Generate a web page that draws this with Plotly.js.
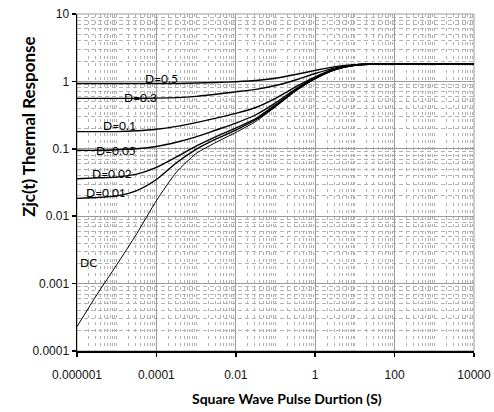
<!DOCTYPE html>
<html>
<head>
<meta charset="utf-8">
<script src="https://cdn.plot.ly/plotly-3.0.1.min.js"></script>
<style>
  html, body { margin: 0; padding: 0; background: #fff; }
  #chart { width: 494px; height: 412px; }
</style>
</head>
<body>
<div id="chart"></div>
<script>
// Square wave pulse duration (s), shared by every curve
const pulseWidth = [0.000001, 0.0000032, 0.00001, 0.000032, 0.0001, 0.00032, 0.001, 0.0032,
                    0.01, 0.032, 0.1, 0.32, 1, 3.2, 10, 32, 100, 10000];

// Normalised thermal response Zjc(t) for each duty cycle
const zDC   = [0.00023, 0.00069, 0.0019, 0.0055, 0.017, 0.045, 0.085, 0.125,
               0.175, 0.255, 0.42, 0.72, 1.1, 1.5, 1.74, 1.81, 1.81, 1.81];
const zD001 = [0.0184, 0.0189, 0.020, 0.024, 0.035, 0.062, 0.098, 0.14,
               0.19, 0.27, 0.43, 0.73, 1.1, 1.5, 1.74, 1.81, 1.81, 1.81];
const zD002 = [0.036, 0.037, 0.038, 0.042, 0.053, 0.076, 0.11, 0.152,
               0.203, 0.28, 0.45, 0.74, 1.11, 1.5, 1.74, 1.81, 1.81, 1.81];
const zD005 = [0.095, 0.095, 0.097, 0.10, 0.108, 0.125, 0.15, 0.19,
               0.24, 0.32, 0.48, 0.77, 1.14, 1.52, 1.745, 1.81, 1.81, 1.81];
const zD01  = [0.18, 0.18, 0.18, 0.185, 0.195, 0.215, 0.245, 0.285,
               0.335, 0.41, 0.56, 0.83, 1.17, 1.53, 1.75, 1.81, 1.81, 1.81];
const zD03  = [0.56, 0.56, 0.56, 0.56, 0.565, 0.575, 0.60, 0.645,
               0.70, 0.76, 0.87, 1.05, 1.31, 1.59, 1.76, 1.81, 1.81, 1.81];
const zD05  = [0.93, 0.93, 0.93, 0.93, 0.93, 0.93, 0.945, 0.965,
               0.99, 1.03, 1.115, 1.265, 1.455, 1.655, 1.775, 1.81, 1.81, 1.81];

const curveNames = ['DC', 'D=0.01', 'D=0.02', 'D=0.05', 'D=0.1', 'D=0.3', 'D=0.5'];
const curveValues = [zDC, zD001, zD002, zD005, zD01, zD03, zD05];

// Axis tick labels
const xTickVals = [0.000001, 0.0001, 0.01, 1, 100, 10000];
const xTickText = ['0.000001', '0.0001', '0.01', '1', '100', '10000'];
const yTickVals = [0.0001, 0.001, 0.01, 0.1, 1, 10];
const yTickText = ['0.0001', '0.001', '0.01', '0.1', '1', '10'];

// Minor grid: every 1..9 multiple of each decade that is not a labelled tick
function minorVals(fromExp, toExp, majors) {
  const out = [];
  for (let e = fromExp; e < toExp; e++) {
    for (let k = 1; k <= 9; k++) {
      const v = k * Math.pow(10, e);
      if (!majors.some(m => Math.abs(m - v) / m < 1e-9)) out.push(v);
    }
  }
  return out;
}

const traces = curveValues.map((vals, i) => ({
  type: 'scatter',
  mode: 'lines',
  name: curveNames[i],
  x: pulseWidth,
  y: vals,
  line: { color: '#000', width: curveNames[i] === 'DC' ? 1 : 1.4, shape: 'spline', smoothing: 0.6 },
  hoverinfo: 'skip',
  showlegend: false
}));

// Curve labels sit on the flat part of each curve (log10 coordinates)
const labelPos = [
  [-5.72, -2.694], [-5.27, -1.641], [-5.12, -1.359], [-5.02, -1.018],
  [-4.92, -0.647], [-4.39, -0.246], [-3.86, 0.050]
];
const annotations = curveNames.map((name, i) => ({
  x: labelPos[i][0], y: labelPos[i][1], xref: 'x', yref: 'y',
  text: name, showarrow: false,
  font: { family: 'Lato, sans-serif', size: 12, color: '#000' },
  xanchor: 'center', yanchor: 'middle'
}));

annotations.push({
  xref: 'paper', yref: 'paper', x: 0.530, y: -0.142,
  text: 'Square Wave Pulse Durtion (S)', showarrow: false,
  font: { family: 'Lato, sans-serif', size: 14, color: '#000', weight: 'bold' },
  xanchor: 'center', yanchor: 'middle'
});
annotations.push({
  xref: 'paper', yref: 'paper', x: -0.121, y: 0.665,
  text: 'Zjc(t) Thermal Response', showarrow: false, textangle: -90,
  font: { family: 'Lato, sans-serif', size: 17, color: '#000', weight: 'bold' },
  xanchor: 'center', yanchor: 'middle'
});

const layout = {
  width: 494, height: 412,
  margin: { l: 77, r: 20, t: 14, b: 61 },
  paper_bgcolor: '#fff', plot_bgcolor: '#fff',
  showlegend: false,
  xaxis: {
    type: 'log', range: [-6, 4],
    tickmode: 'array', tickvals: xTickVals, ticktext: xTickText,
    showgrid: true, gridcolor: '#9a9a9a', gridwidth: 1,
    showline: true, linecolor: '#000', linewidth: 1.5,
    ticks: 'outside', ticklen: 4, tickwidth: 1.5, tickcolor: '#000',
    ticklabelstandoff: 8,
    tickfont: { family: 'Liberation Sans, Arial, sans-serif', size: 12, color: '#111' },
    zeroline: false,
    minor: {
      tickmode: 'array', tickvals: minorVals(-6, 4, xTickVals),
      showgrid: true, gridcolor: '#b2b2b2', gridwidth: 1, griddash: '3px,4px', ticks: ''
    }
  },
  yaxis: {
    type: 'log', range: [-4, 1],
    tickmode: 'array', tickvals: yTickVals, ticktext: yTickText,
    showgrid: true, gridcolor: '#9a9a9a', gridwidth: 1,
    showline: true, linecolor: '#000', linewidth: 1.5,
    ticks: 'outside', ticklen: 4, tickwidth: 1.5, tickcolor: '#000',
    tickfont: { family: 'Liberation Sans, Arial, sans-serif', size: 12, color: '#111' },
    zeroline: false,
    minor: {
      tickmode: 'array', tickvals: minorVals(-4, 1, yTickVals),
      showgrid: true, gridcolor: '#b2b2b2', gridwidth: 1, griddash: '4px,3px', ticks: ''
    }
  },
  shapes: [{
    type: 'rect', xref: 'paper', yref: 'paper', x0: 0, x1: 1, y0: 0, y1: 1,
    line: { color: '#9a9a9a', width: 1 }, layer: 'below'
  }],
  annotations: annotations
};

Plotly.newPlot('chart', traces, layout, { staticPlot: true, displayModeBar: false });
</script>
</body>
</html>
